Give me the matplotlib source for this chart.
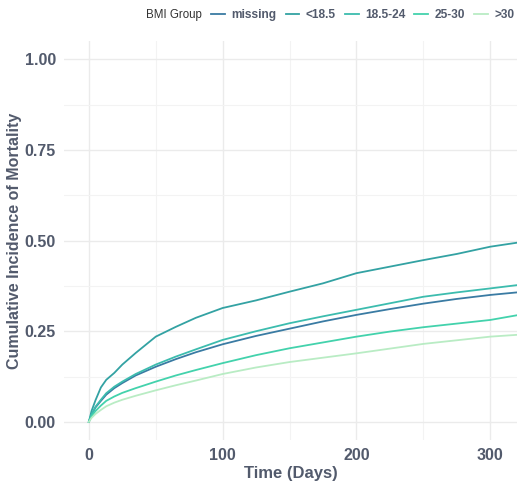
import matplotlib.pyplot as plt

# Data
days = [0, 2, 5, 9, 13, 19, 25, 35, 50, 65, 80, 100, 125, 150, 175, 200, 225, 250, 275, 300, 320]
groups = ["missing", "<18.5", "18.5-24", "25-30", ">30"]
inc_missing = [0.0, 0.02, 0.04, 0.058, 0.075, 0.093, 0.107, 0.128, 0.152, 0.173, 0.192, 0.214, 0.237, 0.257, 0.277, 0.295, 0.311, 0.326, 0.339, 0.350, 0.357]
inc_lt185 = [0.0, 0.03, 0.06, 0.095, 0.116, 0.135, 0.158, 0.19, 0.235, 0.262, 0.287, 0.314, 0.335, 0.359, 0.382, 0.41, 0.428, 0.446, 0.463, 0.483, 0.494]
inc_185_24 = [0.0, 0.021, 0.042, 0.061, 0.079, 0.097, 0.111, 0.132, 0.158, 0.18, 0.2, 0.226, 0.25, 0.272, 0.291, 0.309, 0.327, 0.345, 0.357, 0.368, 0.377]
inc_25_30 = [0.0, 0.016, 0.03, 0.045, 0.058, 0.07, 0.08, 0.093, 0.111, 0.128, 0.143, 0.162, 0.184, 0.203, 0.219, 0.235, 0.249, 0.261, 0.271, 0.281, 0.294]
inc_gt30 = [0.0, 0.011, 0.022, 0.033, 0.043, 0.053, 0.061, 0.072, 0.087, 0.101, 0.114, 0.132, 0.15, 0.165, 0.177, 0.189, 0.202, 0.215, 0.225, 0.235, 0.24]
series = [inc_missing, inc_lt185, inc_185_24, inc_25_30, inc_gt30]
colors = ["#3a7ba3", "#33a2a3", "#3cbcae", "#43d2ac", "#b9ecc4"]

txt = "#525a6c"
plt.rcParams["font.family"] = ["Liberation Sans", "DejaVu Sans"]

fig = plt.figure(figsize=(5.17, 4.83), dpi=100)
ax = fig.add_axes([0.124, 0.089, 0.876, 0.826])

for vals, c, g in zip(series, colors, groups):
    ax.plot(days, vals, color=c, lw=1.3, label=g)

ax.set_xlim(-18.5, 320)
ax.set_ylim(-0.05, 1.05)
ax.set_xticks([0, 100, 200, 300])
ax.set_xticks([50, 150, 250], minor=True)
ax.set_yticks([0, 0.25, 0.5, 0.75, 1.0])
ax.set_yticklabels(["0.00", "0.25", "0.50", "0.75", "1.00"])
ax.set_yticks([0.125, 0.375, 0.625, 0.875], minor=True)
ax.grid(which="major", color="#ebebeb", lw=1.0)
ax.grid(which="minor", color="#f3f3f3", lw=0.8)
ax.set_axisbelow(True)
for s in ax.spines.values():
    s.set_visible(False)
ax.tick_params(which="both", length=0, colors=txt, labelsize=11.5, pad=6)
for lab in ax.get_xticklabels() + ax.get_yticklabels():
    lab.set_fontweight("bold")

ax.set_xlabel("Time (Days)", color=txt, fontsize=12, fontweight="bold", labelpad=2)
ax.set_ylabel("Cumulative Incidence of Mortality", color=txt, fontsize=11.5, fontweight="bold")
ax.yaxis.set_label_coords(-0.094, 0.5)

# legend on top, title written inline to the left of the entries
leg = fig.legend(loc="center right", bbox_to_anchor=(1.0, 1 - 15 / 483), ncol=5, frameon=False,
                 fontsize=8.6, handlelength=1.15, handletextpad=0.55, columnspacing=0.75,
                 borderaxespad=0.0, borderpad=0.2)
for t in leg.get_texts():
    t.set_color(txt)
    t.set_fontweight("bold")
fig.text(146 / 517, 1 - 15 / 483, "BMI Group", ha="left", va="center", fontsize=8.3, color="#333333")

fig.savefig("out.png", dpi=100)
